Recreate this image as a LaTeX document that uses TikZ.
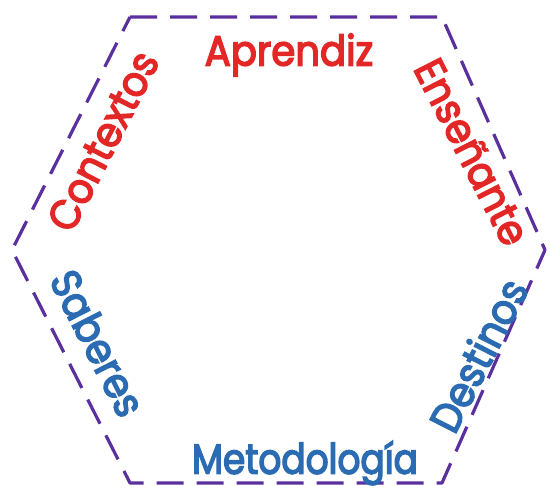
\documentclass[tikz,border=0pt]{standalone}
\usepackage{fontspec}
\setmainfont{Poppins}[FakeBold=3.5,FakeStretch=0.92]
\definecolor{hexpurple}{HTML}{5A2F9E}
\definecolor{lred}{HTML}{E32726}
\definecolor{lblue}{HTML}{2B6BB2}
\begin{document}
\begin{tikzpicture}[x=1pt,y=1pt,
  hexline/.style={draw=hexpurple,line width=3.2pt,dash pattern=on 27pt off 13pt,line join=round},
  redlbl/.style={text=lred,font=\fontsize{42}{42}\selectfont,inner sep=0pt},
  bluelbl/.style={text=lblue,font=\fontsize{42}{42}\selectfont,inner sep=0pt}]
\useasboundingbox (0,0) rectangle (550,490);
\coordinate (A) at (130,473);
\coordinate (B) at (442,473);
\coordinate (C) at (545,240);
\coordinate (D) at (442,7);
\coordinate (E) at (130,7);
\coordinate (F) at (12,240);
\draw[hexline] (A) -- (B) -- (C) -- (D) -- (E) -- (F) -- cycle;
\node[redlbl] (apr) at (289,435) {Aprendiz};
\node[redlbl,rotate=63] (con) at (103,349) {Contextos};
\node[redlbl,rotate=-63] (ens) at (472,338) {Enseñante};
\node[bluelbl,rotate=-63] (sab) at (98,147) {Saberes};
\node[bluelbl,rotate=63] (des) at (478,135) {Destinos};
\node[bluelbl] (met) at (305,27) {\scalebox{0.93}[1]{Metodología}};
\end{tikzpicture}
\end{document}
